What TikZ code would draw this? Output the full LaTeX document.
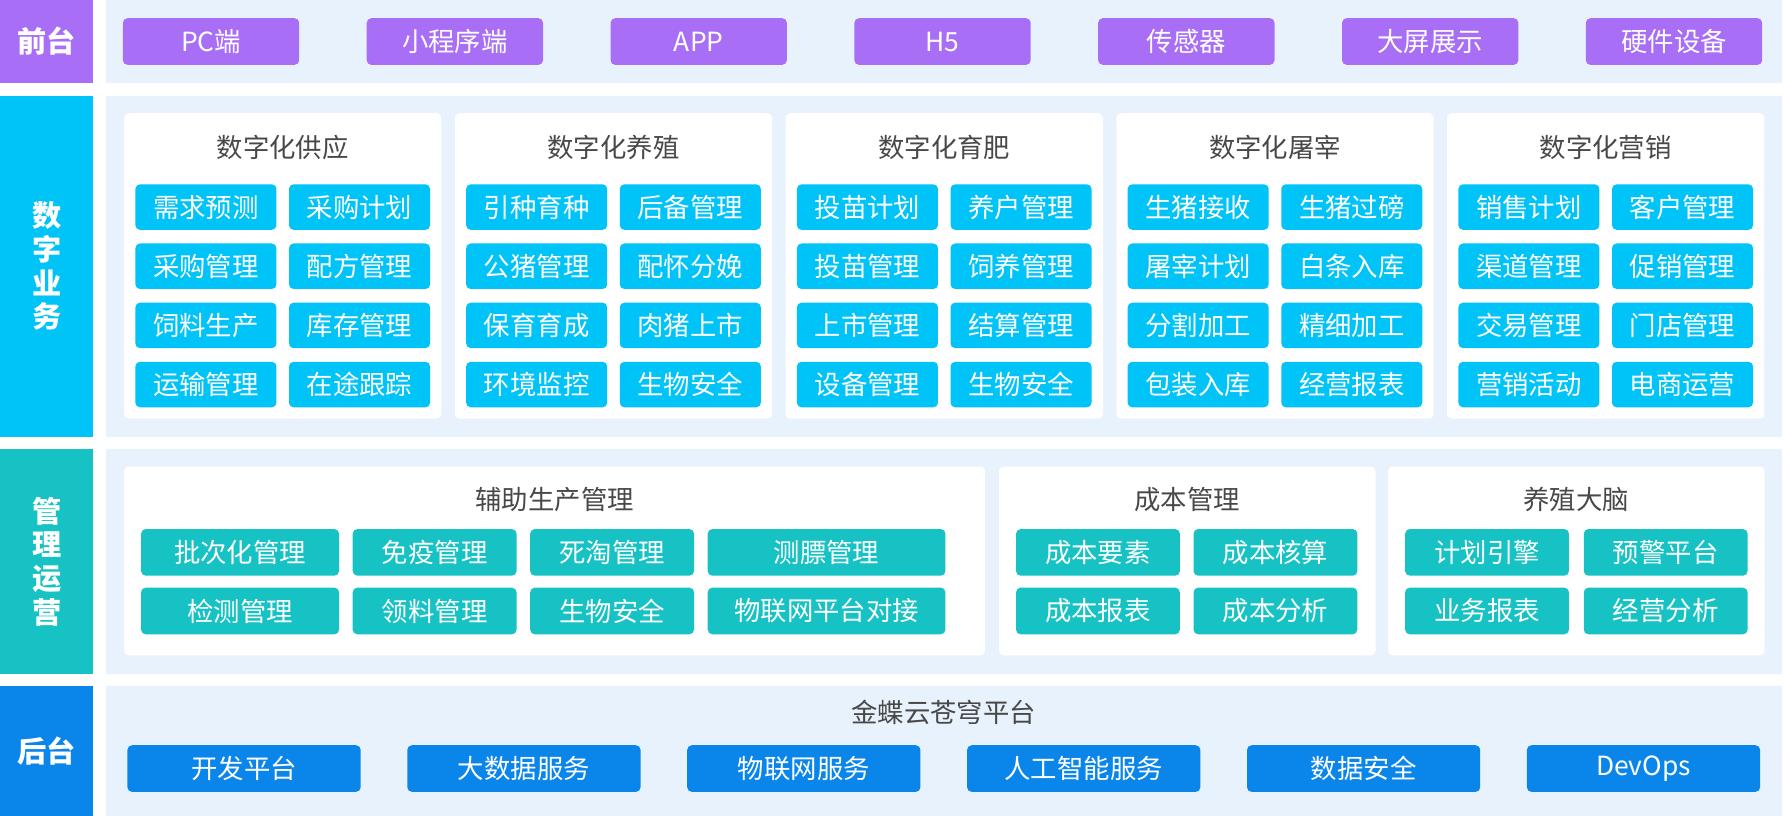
\documentclass[tikz,border=0pt]{standalone}
\usepackage{fontspec}
\setmainfont{Noto Sans CJK SC}
\definecolor{frontcolor}{RGB}{169, 110, 246}
\definecolor{bizcolor}{RGB}{0, 195, 247}
\definecolor{opscolor}{RGB}{22, 194, 196}
\definecolor{backcolor}{RGB}{10, 134, 235}
\definecolor{bandcolor}{RGB}{232, 242, 252}
\definecolor{titlecolor}{RGB}{72, 72, 72}
\newcommand{\btnfont}{\fontsize{13.2}{16}\selectfont}
\newcommand{\labelfont}{\fontsize{14.6}{16.8}\selectfont\bfseries}

\begin{document}
\begin{tikzpicture}[x=0.02cm, y=-0.02cm,
    btn/.style={rounded corners=2.3pt, text=white, font=\btnfont, inner sep=0pt, minimum height=0.8cm},
    frontbtn/.style={btn, fill=frontcolor, minimum width=3.1cm, minimum height=0.82cm},
    bizbtn/.style={btn, fill=bizcolor, minimum width=2.48cm},
    opsbtn/.style={btn, fill=opscolor, minimum width=2.88cm, minimum height=0.82cm},
    backbtn/.style={btn, fill=backcolor, minimum width=4.1cm, minimum height=0.82cm},
    card/.style={fill=white, rounded corners=2.3pt, inner sep=0pt},
    cardtitle/.style={text=titlecolor, font=\btnfont},
    layer/.style={text=white, font=\labelfont, align=center, inner sep=0pt, minimum width=1.64cm}]
  \useasboundingbox (0,0) rectangle (1568,717);

  % Layer bands
  \fill[bandcolor] (93,0) rectangle (1566,73);
  \fill[bandcolor] (93,84) rectangle (1566,384);
  \fill[bandcolor] (93,395) rectangle (1566,592);
  \fill[bandcolor] (93,603) rectangle (1566,717);

  % Layer labels
  \node[layer, fill=frontcolor, minimum height=1.46cm] (front) at (41,36.5) {前台};
  \node[layer, fill=bizcolor, minimum height=6cm] (biz) at (41,234) {数\\字\\业\\务};
  \node[layer, fill=opscolor, minimum height=3.94cm] (ops) at (41,493.5) {管\\理\\运\\营};
  \node[layer, fill=backcolor, minimum height=2.28cm] (back) at (41,660) {后台};

  % Front end
  \node[frontbtn] (pc) at (185.5,36.5) {PC端};
  \node[frontbtn] (mini) at (399.8,36.5) {小程序端};
  \node[frontbtn] (app) at (614.1,36.5) {APP};
  \node[frontbtn] (h5) at (828.4,36.5) {H5};
  \node[frontbtn] (sensor) at (1042.7,36.5) {传感器};
  \node[frontbtn] (screen) at (1257,36.5) {大屏展示};
  \node[frontbtn] (device) at (1471.3,36.5) {硬件设备};

  % Digital business cards
  \node[card, minimum width=5.58cm, minimum height=5.37cm] (supply) at (248.5,233.75) {};
  \node[card, minimum width=5.58cm, minimum height=5.37cm] (breed) at (539.2,233.75) {};
  \node[card, minimum width=5.58cm, minimum height=5.37cm] (fatten) at (829.9,233.75) {};
  \node[card, minimum width=5.58cm, minimum height=5.37cm] (slaughter) at (1120.6,233.75) {};
  \node[card, minimum width=5.58cm, minimum height=5.37cm] (market) at (1411.3,233.75) {};
  \node[cardtitle] (supplyT) at (248.5,129.5) {数字化供应};
  \node[cardtitle] (breedT) at (539.2,129.5) {数字化养殖};
  \node[cardtitle] (fattenT) at (829.9,129.5) {数字化育肥};
  \node[cardtitle] (slaughterT) at (1120.6,129.5) {数字化屠宰};
  \node[cardtitle] (marketT) at (1411.3,129.5) {数字化营销};

  \node[bizbtn] (supply1) at (181,182) {需求预测};
  \node[bizbtn] (supply2) at (316,182) {采购计划};
  \node[bizbtn] (supply3) at (181,234) {采购管理};
  \node[bizbtn] (supply4) at (316,234) {配方管理};
  \node[bizbtn] (supply5) at (181,286) {饲料生产};
  \node[bizbtn] (supply6) at (316,286) {库存管理};
  \node[bizbtn] (supply7) at (181,338) {运输管理};
  \node[bizbtn] (supply8) at (316,338) {在途跟踪};

  \node[bizbtn] (breed1) at (471.7,182) {引种育种};
  \node[bizbtn] (breed2) at (606.7,182) {后备管理};
  \node[bizbtn] (breed3) at (471.7,234) {公猪管理};
  \node[bizbtn] (breed4) at (606.7,234) {配怀分娩};
  \node[bizbtn] (breed5) at (471.7,286) {保育育成};
  \node[bizbtn] (breed6) at (606.7,286) {肉猪上市};
  \node[bizbtn] (breed7) at (471.7,338) {环境监控};
  \node[bizbtn] (breed8) at (606.7,338) {生物安全};

  \node[bizbtn] (fatten1) at (762.4,182) {投苗计划};
  \node[bizbtn] (fatten2) at (897.4,182) {养户管理};
  \node[bizbtn] (fatten3) at (762.4,234) {投苗管理};
  \node[bizbtn] (fatten4) at (897.4,234) {饲养管理};
  \node[bizbtn] (fatten5) at (762.4,286) {上市管理};
  \node[bizbtn] (fatten6) at (897.4,286) {结算管理};
  \node[bizbtn] (fatten7) at (762.4,338) {设备管理};
  \node[bizbtn] (fatten8) at (897.4,338) {生物安全};

  \node[bizbtn] (slaughter1) at (1053.1,182) {生猪接收};
  \node[bizbtn] (slaughter2) at (1188.1,182) {生猪过磅};
  \node[bizbtn] (slaughter3) at (1053.1,234) {屠宰计划};
  \node[bizbtn] (slaughter4) at (1188.1,234) {白条入库};
  \node[bizbtn] (slaughter5) at (1053.1,286) {分割加工};
  \node[bizbtn] (slaughter6) at (1188.1,286) {精细加工};
  \node[bizbtn] (slaughter7) at (1053.1,338) {包装入库};
  \node[bizbtn] (slaughter8) at (1188.1,338) {经营报表};

  \node[bizbtn] (market1) at (1343.8,182) {销售计划};
  \node[bizbtn] (market2) at (1478.8,182) {客户管理};
  \node[bizbtn] (market3) at (1343.8,234) {渠道管理};
  \node[bizbtn] (market4) at (1478.8,234) {促销管理};
  \node[bizbtn] (market5) at (1343.8,286) {交易管理};
  \node[bizbtn] (market6) at (1478.8,286) {门店管理};
  \node[bizbtn] (market7) at (1343.8,338) {营销活动};
  \node[bizbtn] (market8) at (1478.8,338) {电商运营};

  % Management cards
  \node[card, minimum width=15.14cm, minimum height=3.32cm] (aux) at (487.5,493) {};
  \node[card, minimum width=6.62cm, minimum height=3.32cm] (cost) at (1043.5,493) {};
  \node[card, minimum width=6.62cm, minimum height=3.32cm] (brain) at (1385.5,493) {};
  \node[cardtitle] (auxT) at (487.5,439) {辅助生产管理};
  \node[cardtitle] (costT) at (1043.5,439) {成本管理};
  \node[cardtitle] (brainT) at (1385.5,439) {养殖大脑};

  \node[opsbtn, minimum width=3.48cm] (aux1) at (211,485.5) {批次化管理};
  \node[opsbtn] (aux2) at (382,485.5) {免疫管理};
  \node[opsbtn] (aux3) at (538,485.5) {死淘管理};
  \node[opsbtn, minimum width=4.18cm] (aux4) at (726.5,485.5) {测膘管理};
  \node[opsbtn, minimum width=3.48cm] (aux5) at (211,537) {检测管理};
  \node[opsbtn] (aux6) at (382,537) {领料管理};
  \node[opsbtn] (aux7) at (538,537) {生物安全};
  \node[opsbtn, minimum width=4.18cm] (aux8) at (726.5,537) {物联网平台对接};

  \node[opsbtn] (cost1) at (965,485.5) {成本要素};
  \node[opsbtn] (cost2) at (1121,485.5) {成本核算};
  \node[opsbtn] (cost3) at (965,537) {成本报表};
  \node[opsbtn] (cost4) at (1121,537) {成本分析};

  \node[opsbtn] (brain1) at (1307,485.5) {计划引擎};
  \node[opsbtn] (brain2) at (1464,485.5) {预警平台};
  \node[opsbtn] (brain3) at (1307,537) {业务报表};
  \node[opsbtn] (brain4) at (1464,537) {经营分析};

  % Back end
  \node[cardtitle] (platform) at (829.5,626) {金蝶云苍穹平台};
  \node[backbtn] (dev) at (214.5,675.5) {开发平台};
  \node[backbtn] (bigdata) at (460.5,675.5) {大数据服务};
  \node[backbtn] (iot) at (706.5,675.5) {物联网服务};
  \node[backbtn] (ai) at (952.5,675.5) {人工智能服务};
  \node[backbtn] (security) at (1198.5,675.5) {数据安全};
  \node[backbtn] (devops) at (1444.5,675.5) {DevOps};

\end{tikzpicture}
\end{document}
